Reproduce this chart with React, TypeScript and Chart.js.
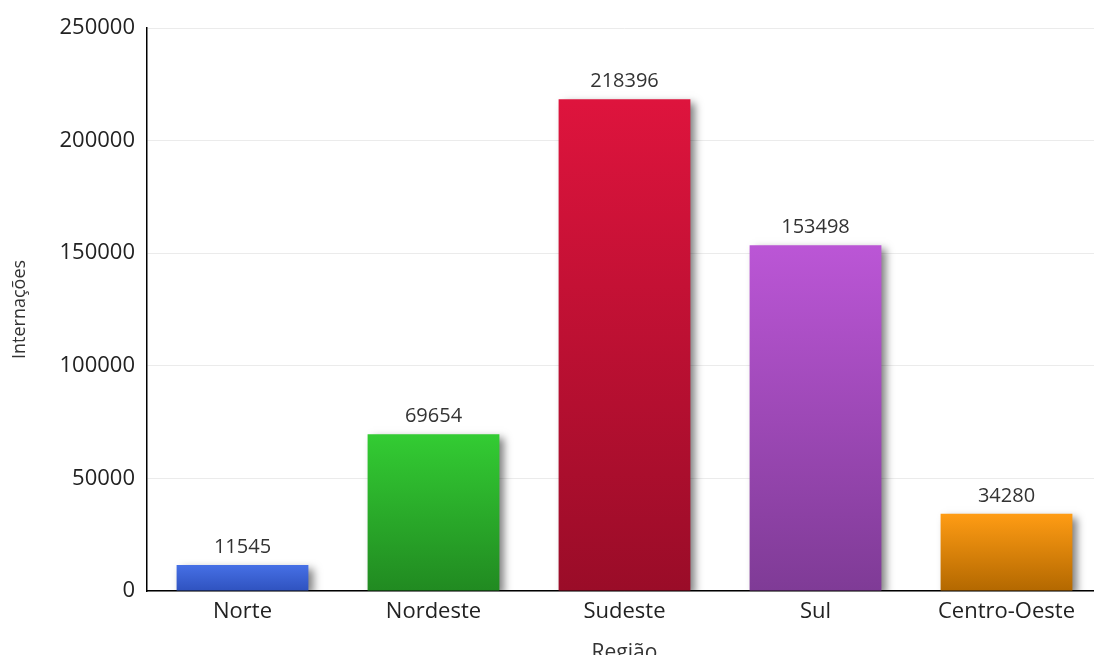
import React, { useEffect, useRef } from "react";
import { Chart, registerables } from "chart.js";

Chart.register(...registerables);

const categories = ["Norte", "Nordeste", "Sudeste", "Sul", "Centro-Oeste"];
const values = [11545, 69654, 218396, 153498, 34280];
const topColors = ["#4670e6", "#33cc33", "#de143d", "#bb56d6", "#ff9c14"];
const bottomColors = ["#2f52bf", "#218a21", "#9a0c28", "#7f3b96", "#b36800"];
const yTicks = [0, 50000, 100000, 150000, 200000, 250000];
const yTitle = "Internações";
const xTitle = "Região";

const FONT = "'Open Sans', 'Noto Sans', sans-serif";

export default function App() {
  const ref = useRef<HTMLCanvasElement | null>(null);

  useEffect(() => {
    if (!ref.current) return;
    const shadowPlugin = {
      id: "barShadow",
      beforeDatasetDraw(chart: any) {
        const ctx = chart.ctx;
        ctx.save();
        ctx.shadowColor = "rgba(0,0,0,0.5)";
        ctx.shadowBlur = 8;
        ctx.shadowOffsetX = 5;
        ctx.shadowOffsetY = 4;
      },
      afterDatasetDraw(chart: any) {
        chart.ctx.restore();
      },
    };
    const labelPlugin = {
      id: "valueLabels",
      afterDatasetsDraw(chart: any) {
        const ctx = chart.ctx;
        const meta = chart.getDatasetMeta(0);
        ctx.save();
        ctx.font = `20px ${FONT}`;
        ctx.fillStyle = "#333333";
        ctx.textAlign = "center";
        ctx.textBaseline = "middle";
        meta.data.forEach((el: any, i: number) => {
          ctx.fillText(String(values[i]), el.x, el.y - 18);
        });
        ctx.restore();
      },
    };
    const chart = new Chart(ref.current, {
      type: "bar",
      data: {
        labels: categories,
        datasets: [
          {
            data: values,
            backgroundColor: (c: any) => {
              const i = c.dataIndex ?? 0;
              const ch = c.chart;
              const y = ch.scales?.y;
              if (!y) return topColors[i];
              const top = y.getPixelForValue(values[i]);
              const bottom = y.getPixelForValue(0);
              if (!isFinite(top) || !isFinite(bottom) || top === bottom) return topColors[i];
              const g = ch.ctx.createLinearGradient(0, top, 0, bottom);
              g.addColorStop(0, topColors[i]);
              g.addColorStop(1, bottomColors[i]);
              return g;
            },
            borderWidth: 0,
            barPercentage: 0.69,
            categoryPercentage: 1,
          },
        ],
      },
      options: {
        responsive: false,
        animation: false,
        layout: { padding: { top: 28, left: 0, right: 0, bottom: 0 } },
        plugins: { legend: { display: false }, tooltip: { enabled: false } },
        scales: {
          x: {
            grid: { display: false, drawTicks: false },
            border: { color: "#000000", width: 1.5 },
            ticks: { font: { size: 22, family: FONT }, color: "#222222", padding: 8 },
            title: {
              display: true,
              text: xTitle,
              font: { size: 21, family: FONT },
              color: "#333333",
              padding: { top: 0, bottom: 4 },
            },
            afterFit: (s: any) => {
              s.height = 79;
            },
          },
          y: {
            min: 0,
            max: 250000,
            afterBuildTicks: (s: any) => {
              s.ticks = yTicks.map((v) => ({ value: v }));
            },
            grid: { color: "#ebebeb", drawTicks: false, lineWidth: 1 },
            border: { color: "#000000", width: 1.5 },
            ticks: {
              font: { size: 22, family: FONT },
              color: "#222222",
              padding: 12,
              callback: (v: any) => String(v),
            },
            title: {
              display: true,
              text: yTitle,
              font: { size: 18, family: FONT },
              color: "#333333",
              padding: { top: 9, bottom: 9 },
            },
            afterFit: (s: any) => {
              s.width = 147;
            },
          },
        },
      },
      plugins: [shadowPlugin, labelPlugin],
    });
    return () => chart.destroy();
  }, []);

  return (
    <div style={{ position: "fixed", left: 0, top: 0, width: 1094, height: 655, overflow: "hidden", background: "#fff" }}>
      <canvas ref={ref} width={1102} height={670} style={{ display: "block", width: 1102, height: 670 }} />
    </div>
  );
}
